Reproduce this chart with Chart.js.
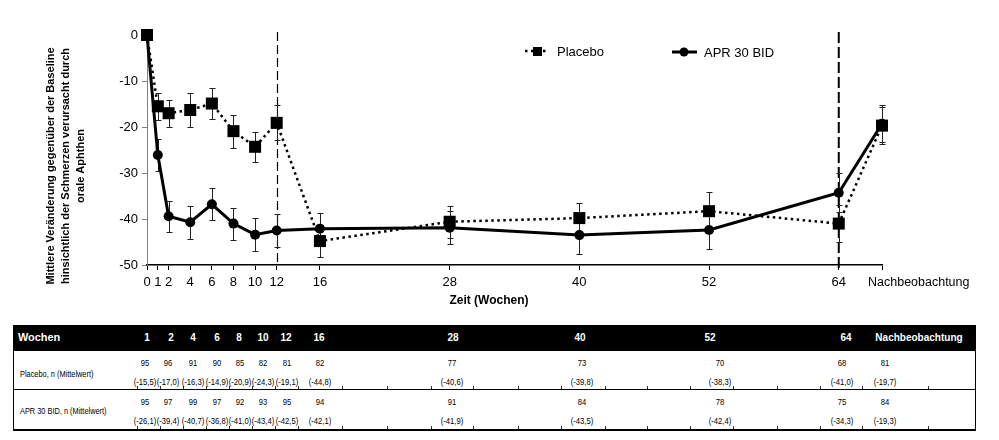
<!DOCTYPE html>
<html>
<head>
<meta charset="utf-8">
<script src="https://cdn.jsdelivr.net/npm/chart.js@4.4.0/dist/chart.umd.min.js"></script>
<style>
body { margin: 0; background: #fff; font-family: "Liberation Sans", Arial, sans-serif; }
#wrap { position: relative; width: 999px; height: 440px; overflow: hidden; }
#dadosGrafico { position: absolute; left: 0; top: 0; }
.t { position: absolute; white-space: nowrap; line-height: 1; }
</style>
</head>
<body>
<div id="wrap">
  <canvas id="dadosGrafico" width="999" height="320" style="width:999px;height:320px"></canvas>
</div>
<script>
// Zeitpunkte (Wochen); 68 = Nachbeobachtung
var wochen = [0, 1, 2, 4, 6, 8, 10, 12, 16, 28, 40, 52, 64, 68];
var xLabels = ["0", "1", "2", "4", "6", "8", "10", "12", "16", "28", "40", "52", "64", "Nachbeobachtung"];
var yTicks = [0, -10, -20, -30, -40, -50];

var placeboMittel = [0, -15.5, -17.0, -16.3, -14.9, -20.9, -24.3, -19.1, -44.8, -40.6, -39.8, -38.3, -41.0, -19.7];
var placeboFehler = [0, 3.0, 2.9, 3.7, 3.4, 3.6, 3.2, 3.8, 3.5, 3.5, 3.3, 4.2, 4.1, 4.1];
var aprMittel = [0, -26.1, -39.4, -40.7, -36.8, -41.0, -43.4, -42.5, -42.1, -41.9, -43.5, -42.4, -34.3, -19.3];
var aprFehler = [0, 3.4, 3.4, 3.6, 3.5, 3.5, 3.6, 3.6, 3.4, 3.6, 4.1, 4.1, 4.2, 4.0];

// Tabelle
var tabelleKoepfe = ["1", "2", "4", "6", "8", "10", "12", "16", "28", "40", "52", "64", "Nachbeobachtung"];
var placeboN = [95, 96, 91, 90, 85, 82, 81, 82, 77, 73, 70, 68, 81];
var aprN = [95, 97, 99, 97, 92, 93, 95, 94, 91, 84, 78, 75, 84];

var schwarz = "#000";
Chart.defaults.font.family = "'Liberation Sans', Arial, sans-serif";
Chart.defaults.color = schwarz;

function punkte(mittel) {
    return wochen.map(function (w, i) { return { x: w, y: mittel[i] }; });
}

var linienPlugin = {
    id: "linien",
    beforeDatasetsDraw: function (chart) {
        var ctx = chart.ctx, x = chart.scales.x, y = chart.scales.y;
        // gestrichelte Linien bei Woche 12 und 64
        ctx.save();
        ctx.strokeStyle = schwarz;
        ctx.lineWidth = 1.2;
        ctx.setLineDash([9, 4]);
        ctx.beginPath();
        ctx.moveTo(Math.round(x.getPixelForValue(12)) + 0.5, 32);
        ctx.lineTo(Math.round(x.getPixelForValue(12)) + 0.5, y.bottom);
        ctx.stroke();
        ctx.lineWidth = 2;
        ctx.setLineDash([11, 4]);
        ctx.beginPath();
        ctx.moveTo(x.getPixelForValue(64), 32);
        ctx.lineTo(x.getPixelForValue(64), y.bottom + 4);
        ctx.stroke();
        ctx.restore();

        // Fehlerbalken
        var serien = [[placeboMittel, placeboFehler], [aprMittel, aprFehler]];
        ctx.save();
        ctx.strokeStyle = "#222";
        ctx.lineWidth = 1;
        serien.forEach(function (s) {
            wochen.forEach(function (w, i) {
                if (!s[1][i]) return;
                var px = Math.round(x.getPixelForValue(w)) + 0.5;
                var top = Math.round(y.getPixelForValue(s[0][i] + s[1][i])) + 0.5;
                var bot = Math.round(y.getPixelForValue(s[0][i] - s[1][i])) + 0.5;
                ctx.beginPath();
                ctx.moveTo(px, top); ctx.lineTo(px, bot);
                ctx.moveTo(px - 3, top); ctx.lineTo(px + 3, top);
                ctx.moveTo(px - 3, bot); ctx.lineTo(px + 3, bot);
                ctx.stroke();
            });
        });
        ctx.restore();
    },
    afterDraw: function (chart) {
        var ctx = chart.ctx, x = chart.scales.x;
        ctx.save();
        ctx.fillStyle = schwarz;
        // letzte x-Beschriftung
        ctx.font = "12.5px 'Liberation Sans', Arial, sans-serif";
        ctx.textAlign = "left";
        ctx.textBaseline = "middle";
        ctx.fillText(xLabels[xLabels.length - 1], x.getPixelForValue(68) - 14, 283);

        // Achsentitel
        ctx.font = "bold 12px 'Liberation Sans', Arial, sans-serif";
        ctx.textAlign = "center";
        ctx.fillText("Zeit (Wochen)", 489, 301);
        var yTitel = ["Mittlere Veränderung gegenüber der Baseline",
                      "hinsichtlich der Schmerzen verursacht durch",
                      "orale Aphthen"];
        ctx.font = "bold 11px 'Liberation Sans', Arial, sans-serif";
        [51, 66, 81].forEach(function (lx, i) {
            ctx.save();
            ctx.translate(lx, 166);
            ctx.rotate(-Math.PI / 2);
            ctx.fillText(yTitel[i], 0, 0);
            ctx.restore();
        });

        // Legende
        ctx.font = "13px 'Liberation Sans', Arial, sans-serif";
        ctx.textAlign = "left";
        ctx.strokeStyle = schwarz;
        ctx.lineWidth = 2.5;
        ctx.setLineDash([2.5, 3.5]);
        ctx.beginPath(); ctx.moveTo(525, 51); ctx.lineTo(549, 51); ctx.stroke();
        ctx.setLineDash([]);
        ctx.fillRect(533, 47, 9, 9);
        ctx.fillText(chart.data.datasets[0].label, 557, 52);
        ctx.lineWidth = 3;
        ctx.beginPath(); ctx.moveTo(672, 52); ctx.lineTo(697, 52); ctx.stroke();
        ctx.beginPath(); ctx.arc(684, 52, 4.5, 0, Math.PI * 2); ctx.fill();
        ctx.fillText(chart.data.datasets[1].label, 704, 53);
        ctx.restore();
    }
};

var ctx = document.getElementById("dadosGrafico").getContext("2d");

var grafico = new Chart(ctx, {
    type: "line",
    data: {
        datasets: [{
            label: "Placebo",
            data: punkte(placeboMittel),
            borderColor: schwarz,
            backgroundColor: schwarz,
            borderWidth: 2.5,
            borderDash: [2.5, 3.5],
            pointStyle: "rect",
            pointRadius: 8.5,
            pointBorderWidth: 0,
            pointBackgroundColor: schwarz,
            clip: false
        }, {
            label: "APR 30 BID",
            data: punkte(aprMittel),
            borderColor: schwarz,
            backgroundColor: schwarz,
            borderWidth: 3,
            pointStyle: "circle",
            pointRadius: 5,
            pointBorderWidth: 0,
            pointBackgroundColor: schwarz,
            clip: false
        }]
    },
    options: {
        responsive: false,
        animation: false,
        layout: { padding: { left: 0, top: 35, right: 117, bottom: 0 } },
        scales: {
            x: {
                type: "linear",
                min: 0,
                max: 68,
                afterBuildTicks: function (axis) {
                    axis.ticks = wochen.map(function (w) { return { value: w }; });
                },
                afterFit: function (axis) { axis.height = 55; },
                ticks: {
                    autoSkip: false,
                    maxRotation: 0,
                    padding: 5,
                    font: { size: 13 },
                    callback: function (v) {
                        return v === 68 ? "" : xLabels[wochen.indexOf(v)];
                    }
                },
                grid: { drawOnChartArea: false, drawTicks: true, tickLength: 5, color: schwarz },
                border: { display: true, color: schwarz, width: 1.5 }
            },
            y: {
                min: -50,
                max: 0,
                afterBuildTicks: function (axis) {
                    axis.ticks = yTicks.map(function (v) { return { value: v }; });
                },
                afterFit: function (axis) { axis.width = 147; },
                ticks: { padding: 4, font: { size: 13 } },
                grid: { drawOnChartArea: false, drawTicks: true, tickLength: 5, color: "#808080" },
                border: { display: true, color: "#808080", width: 1 }
            }
        },
        plugins: {
            legend: { display: false },
            tooltip: { enabled: false },
            title: { display: false }
        }
    },
    plugins: [linienPlugin]
});

// Tabelle unter dem Diagramm
var wrap = document.getElementById("wrap");
function box(l, t, w, h, bg) {
    var d = document.createElement("div");
    d.style.cssText = "position:absolute;left:" + l + "px;top:" + t + "px;width:" + w + "px;height:" + h + "px;background:" + bg;
    wrap.appendChild(d);
    return d;
}
function text(s, x, y, size, bold, color, sx, links) {
    var d = document.createElement("div");
    d.className = "t";
    d.textContent = s;
    d.style.left = x + "px";
    d.style.top = y + "px";
    d.style.fontSize = size + "px";
    d.style.fontWeight = bold ? "bold" : "normal";
    d.style.color = color;
    if (links) {
        d.style.transformOrigin = "0 50%";
        d.style.transform = "translateY(-50%) scaleX(" + sx + ")";
    } else {
        d.style.transform = "translate(-50%,-50%) scaleX(" + sx + ")";
    }
    wrap.appendChild(d);
}
function zahl(v) { return "(" + v.toFixed(1).replace(".", ",") + ")"; }

var kopfX = [147, 171, 193, 217, 239, 263, 286, 319, 453, 580, 710, 846, 919];
var wertX = [145, 168, 193, 217, 240, 263, 287, 320, 452, 582, 720, 842, 885];
var trennX = [137, 160, 183, 206, 229, 252, 275, 298, 342, 387, 431, 473, 518, 561, 605, 647, 690, 733, 777, 820, 862, 928];

box(13, 325, 963, 26, "#000");
box(13, 351, 1, 80, "#000");
box(975, 351, 1, 80, "#000");
box(13, 389, 963, 1, "#000");
box(13, 429, 963, 1.5, "#000");
trennX.forEach(function (tx) {
    box(tx, 386, 1, 3, "#333");
    box(tx, 426, 1, 3, "#333");
});

text("Wochen", 18, 338, 11.5, true, "#fff", 0.95, true);
tabelleKoepfe.forEach(function (k, i) {
    text(k, kopfX[i], 338, 11.5, true, "#fff", 0.87, false);
});
text("Placebo, n (Mittelwert)", 20, 374, 9, false, "#000", 0.82, true);
text("APR 30 BID, n (Mittelwert)", 20, 411, 9, false, "#000", 0.82, true);
placeboN.forEach(function (n, i) {
    text(String(n), wertX[i], 363, 9, false, "#000", 0.85, false);
    text(zahl(placeboMittel[i + 1]), wertX[i], 382, 9, false, "#000", 0.85, false);
});
aprN.forEach(function (n, i) {
    text(String(n), wertX[i], 402, 9, false, "#000", 0.85, false);
    text(zahl(aprMittel[i + 1]), wertX[i], 421, 9, false, "#000", 0.85, false);
});
</script>
</body>
</html>
